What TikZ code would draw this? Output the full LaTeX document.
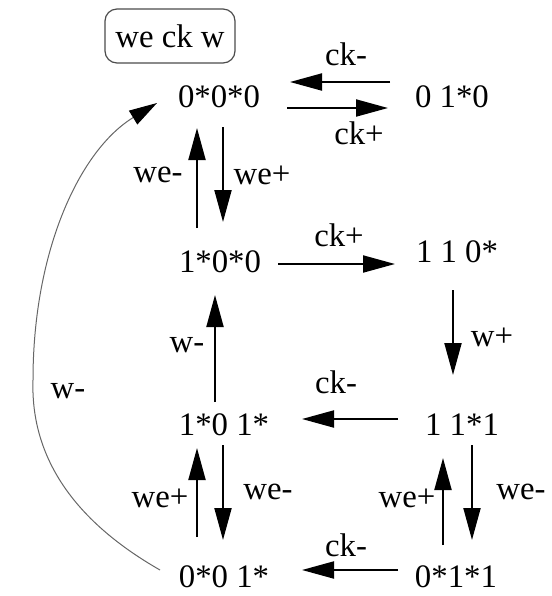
\documentclass[tikz,border=0pt]{standalone}
\usepackage{fontspec}
\setmainfont{Liberation Serif}
\usetikzlibrary{arrows.meta,calc}
\begin{document}
\begin{tikzpicture}[x=0.5pt,y=-0.5pt,
  every node/.style={font=\fontsize{16.4}{19}\selectfont, inner sep=0pt},
  state/.style={},
  lbl/.style={},
  titlebox/.style={draw=black!70, line width=0.6pt, rounded corners=6pt, minimum width=65pt, minimum height=27pt},
  arr/.style={line width=1pt, -{Triangle[length=16pt,width=8.5pt]}},
  curv/.style={draw=black!60, line width=0.5pt, -{Triangle[length=14pt,width=8pt,color=black]}}]
\useasboundingbox (0,0) rectangle (552,596);
% title
\node[titlebox] (title) at (170,36) {we ck w};
% states
\node[state] (s000) at (219,97) {0*0*0};
\node[state] (s010) at (452,97) {0 1*0};
\node[state] (s100) at (220,262) {1*0*0};
\node[state] (s110) at (457,252) {1 1 0*};
\node[state] (s101) at (224,425) {1*0 1*};
\node[state] (s111) at (462,425) {1 1*1};
\node[state] (s001) at (224,577) {0*0 1*};
\node[state] (s011) at (456,577) {0*1*1};
% labels
\node[lbl] (l1) at (346,54) {ck-};
\node[lbl] (l2) at (359,133) {ck+};
\node[lbl] (l3) at (158,175) {we-};
\node[lbl] (l4) at (262,175) {we+};
\node[lbl] (l5) at (339,235) {ck+};
\node[lbl] (l6) at (492,337) {w+};
\node[lbl] (l7) at (187,345) {w-};
\node[lbl] (l8) at (336,382) {ck-};
\node[lbl] (l9) at (68,391) {w-};
\node[lbl] (l10) at (160,498) {we+};
\node[lbl] (l11) at (268,492) {we-};
\node[lbl] (l12) at (407,498) {we+};
\node[lbl] (l13) at (521,492) {we-};
\node[lbl] (l14) at (346,545) {ck-};
% arrows
\draw[arr] ($(s010)+(-62,-15)$) -- ($(s000)+(71,-15)$);
\draw[arr] ($(s000)+(68,11)$) -- ($(s010)+(-64,11)$);
\draw[arr] ($(s100)+(-23,-34)$) -- ($(s000)+(-22,31)$);
\draw[arr] ($(s000)+(4,30)$) -- ($(s100)+(3,-40)$);
\draw[arr] ($(s100)+(58,2)$) -- ($(s110)+(-62,12)$);
\draw[arr] ($(s110)+(-4,38)$) -- ($(s111)+(-9,-50)$);
\draw[arr] ($(s101)+(-9,-23)$) -- ($(s100)+(-5,33)$);
\draw[arr] ($(s111)+(-64,-6)$) -- ($(s101)+(78,-6)$);
\draw[arr] ($(s001)+(-27,-40)$) -- ($(s101)+(-27,23)$);
\draw[arr] ($(s101)+(-1,20)$) -- ($(s001)+(-1,-37)$);
\draw[arr] ($(s011)+(-13,-32)$) -- ($(s111)+(-19,33)$);
\draw[arr] ($(s111)+(10,20)$) -- ($(s011)+(16,-37)$);
\draw[arr] ($(s011)+(-58,-7)$) -- ($(s001)+(78,-7)$);
% w- curve
\draw[curv] ($(s001)+(-64,-7)$) .. controls (90,530) and (30,470) .. (33,380)
   .. controls (33,250) and (80,150) .. ($(s000)+(-62,6)$);
\end{tikzpicture}
\end{document}
